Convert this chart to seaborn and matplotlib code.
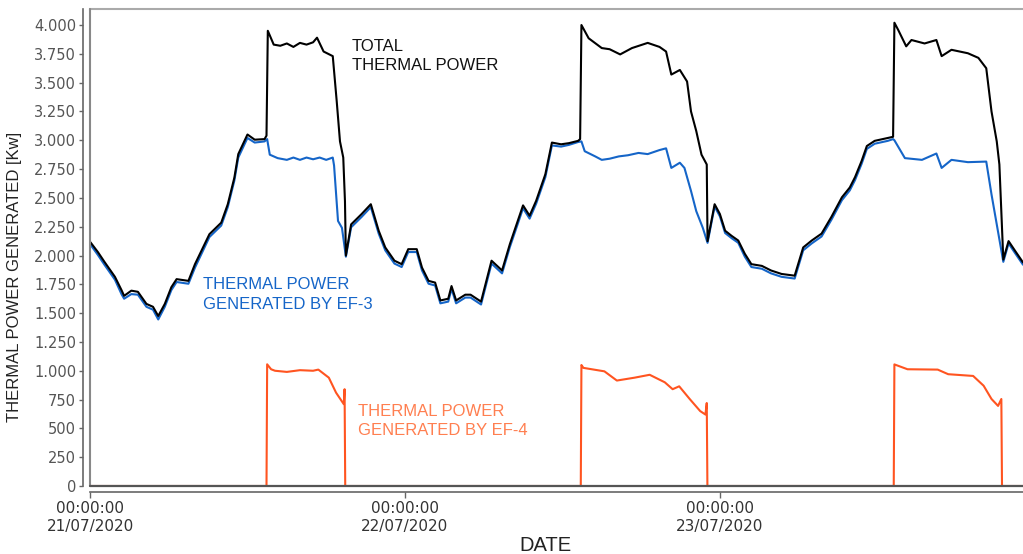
"""
Thermal power generated by EF-3 / EF-4 and the total, 21-23/07/2020
values read off the reference chart (hours from 21/07/2020 00:00)
"""
#%% Libraries
import seaborn as sns
import pandas as pd
import matplotlib.pyplot as plt
import matplotlib.dates as mdates
from matplotlib.ticker import FuncFormatter, MultipleLocator

#%% Data
start = pd.Timestamp("2020-07-21 00:00:00")

total_hours = [0, 0.6, 1.1, 1.9, 2.4, 2.6, 3.15, 3.65, 4.3, 4.8, 5.2, 5.7, 6.2, 6.6, 7.5,
               8.0, 9.1, 10.0, 10.5, 11.0, 11.3, 12.0, 12.55, 13.3, 13.45, 13.55, 14.0,
               14.5, 15.0, 15.5, 16.0, 16.5, 17.0, 17.3, 17.8, 18.5, 18.8, 19.05, 19.3,
               19.43, 19.5, 19.9, 20.7, 21.4, 22.0, 22.5, 23.2, 23.75, 24.25, 24.9, 25.3,
               25.8, 26.3, 26.7, 27.3, 27.55, 27.9, 28.6, 29.0, 29.8, 30.6, 31.4, 32.0,
               32.6, 33.0, 33.5, 34.0, 34.7, 35.2, 35.9, 36.5, 37.2, 37.35, 37.45, 38.0,
               39.0, 39.6, 40.4, 41.3, 42.5, 43.4, 43.9, 44.3, 44.95, 45.5, 45.8, 46.2,
               46.6, 47.0, 47.06, 47.6, 48.0, 48.4, 48.9, 49.4, 49.9, 50.4, 51.2, 51.9,
               52.7, 53.7, 54.35, 55.0, 55.75, 56.5, 57.3, 57.9, 58.3, 58.8, 59.2, 59.8,
               60.8, 61.2, 61.3, 61.6, 62.2, 62.6, 63.6, 64.5, 64.9, 65.65, 66.9, 67.7,
               68.3, 68.7, 69.1, 69.3, 69.6, 70.0, 70.5, 71.1]
total_kw = [2120, 2030, 1945, 1815, 1700, 1650, 1695, 1685, 1580, 1555, 1475, 1580, 1725, 1795, 1780,
            1925, 2185, 2285, 2445, 2675, 2880, 3050, 3005, 3010, 3040, 3950, 3830,
            3820, 3840, 3810, 3845, 3830, 3850, 3890, 3770, 3730, 3340, 2990, 2850,
            2470, 2000, 2270, 2360, 2445, 2215, 2070, 1955, 1925, 2055, 2055, 1895,
            1780, 1765, 1610, 1625, 1735, 1610, 1660, 1660, 1600, 1955, 1870, 2100,
            2300, 2435, 2345, 2475, 2705, 2980, 2965, 2975, 2995, 3010, 4000, 3885,
            3800, 3790, 3745, 3800, 3845, 3810, 3770, 3570, 3610, 3510, 3250, 3080,
            2875, 2790, 2125, 2445, 2360, 2215, 2170, 2130, 2015, 1925, 1910, 1870,
            1840, 1825, 2070, 2130, 2190, 2335, 2505, 2590, 2680, 2820, 2950, 2995,
            3020, 3030, 4020, 3955, 3815, 3870, 3840, 3870, 3730, 3785, 3755, 3715,
            3625, 3250, 2990, 2790, 1965, 2125, 2040, 1940]

ef3_hours = [0, 0.6, 1.1, 1.9, 2.4, 2.6, 3.15, 3.65, 4.3, 4.8, 5.2, 5.7, 6.2, 6.6, 7.5,
             8.0, 9.1, 10.0, 10.5, 11.0, 11.3, 12.0, 12.55, 13.3, 13.5, 13.7, 14.3,
             15.0, 15.5, 16.0, 16.5, 17.0, 17.5, 18.0, 18.5, 18.6, 18.9, 19.2, 19.5,
             19.9, 20.7, 21.4, 22.0, 22.5, 23.2, 23.75, 24.25, 24.9, 25.3, 25.8, 26.3,
             26.7, 27.3, 27.55, 27.9, 28.6, 29.0, 29.8, 30.6, 31.4, 32.0, 32.6, 33.0,
             33.5, 34.0, 34.7, 35.2, 35.9, 36.5, 37.2, 37.45, 37.7, 38.5, 39.0, 39.6,
             40.3, 41.0, 41.8, 42.5, 43.4, 43.9, 44.3, 44.95, 45.3, 45.8, 46.2, 46.7,
             47.06, 47.6, 48.0, 48.4, 48.9, 49.4, 49.9, 50.4, 51.2, 51.9, 52.7, 53.7,
             54.35, 55.0, 55.75, 56.5, 57.3, 57.9, 58.3, 58.8, 59.2, 59.8, 60.8, 61.2,
             61.3, 62.1, 63.4, 64.5, 64.9, 65.65, 66.9, 68.3, 68.7, 69.6, 70.0, 70.5, 71.1]
ef3_kw = [2100, 2005, 1920, 1790, 1665, 1625, 1665, 1660, 1555, 1530, 1445, 1555, 1700, 1770, 1755,
          1895, 2160, 2260, 2420, 2650, 2850, 3020, 2980, 2990, 3010, 2875, 2845,
          2830, 2850, 2830, 2850, 2835, 2850, 2830, 2850, 2780, 2300, 2240, 1990,
          2245, 2335, 2420, 2190, 2045, 1930, 1900, 2030, 2030, 1870, 1755, 1740,
          1585, 1600, 1710, 1585, 1635, 1635, 1575, 1930, 1845, 2075, 2275, 2410,
          2320, 2450, 2680, 2955, 2945, 2960, 2985, 2990, 2905, 2860, 2830, 2840,
          2860, 2870, 2890, 2880, 2915, 2930, 2760, 2805, 2760, 2560, 2385, 2240,
          2110, 2425, 2340, 2195, 2150, 2110, 1990, 1900, 1885, 1845, 1815, 1800,
          2045, 2105, 2165, 2310, 2480, 2565, 2655, 2795, 2925, 2970, 2995, 3010,
          3000, 2845, 2830, 2885, 2760, 2830, 2810, 2815, 2530, 1945, 2105, 2020, 1920]

ef4_hours = [0, 13.45, 13.5, 13.8, 14.1, 15.0, 16.0, 17.0, 17.4, 18.2, 18.75, 19.34, 19.4, 19.45,
             37.4, 37.45, 37.6, 39.2, 40.15, 41.5, 42.65, 43.8, 44.4, 44.9, 45.7, 46.5, 46.9,
             47.0, 47.05, 61.25, 61.3, 62.3, 64.6, 65.4, 67.3, 68.1, 68.7, 69.2, 69.45, 69.5, 71.1]
ef4_kw = [0, 0, 1056, 1013, 1000, 990, 1005, 1000, 1010, 940, 810, 710, 840, 0,
          0, 1050, 1025, 995, 915, 940, 965, 900, 840, 865, 755, 650, 620,
          720, 0, 0, 1055, 1013, 1010, 970, 955, 870, 755, 695, 755, 0, 0]

series_names = ["THERMAL POWER GENERATED BY EF-3", "TOTAL THERMAL POWER",
                "THERMAL POWER GENERATED BY EF-4"]
colors = ["#1565C8", "#000000", "#FF5420"]

frames = []
for name, hrs, vals in zip(series_names, [ef3_hours, total_hours, ef4_hours],
                           [ef3_kw, total_kw, ef4_kw]):
    frames.append(pd.DataFrame({"time": start + pd.to_timedelta(hrs, unit="h"),
                                "power": vals, "series": name}))
data = pd.concat(frames, ignore_index=True)

#%% Plot
sns.set_style("ticks")
plt.rcParams["font.family"] = ["DejaVu Sans"]

fig = plt.figure(figsize=(10.23, 5.54), dpi=100)
ax = fig.add_axes([90 / 1023, 68 / 554, 933 / 1023, 477 / 554])

sns.lineplot(data=data, x="time", y="power", hue="series", hue_order=series_names,
             palette=colors, estimator=None, legend=False, linewidth=1.5, ax=ax)

ax.set_xlim(start, start + pd.Timedelta(hours=71.1))
ax.set_ylim(0, 4139)

# axes styling: offset spines + thin frame
ax.spines["left"].set_position(("outward", 5))
ax.spines["bottom"].set_position(("outward", 4))
ax.spines["right"].set_visible(False)
ax.spines["top"].set_color("#aaaaaa")
ax.spines["top"].set_linewidth(1.5)
for s in ["left", "bottom"]:
    ax.spines[s].set_color("#666666")
    ax.spines[s].set_linewidth(1.2)
ax.axvline(start, color="#888888", lw=1.5, zorder=5, clip_on=False)
ax.axhline(0, color="#555555", lw=1.6, zorder=5, clip_on=False)

ax.yaxis.set_major_locator(MultipleLocator(250))
ax.yaxis.set_major_formatter(FuncFormatter(lambda v, p: f"{int(v):,}".replace(",", ".")))
ax.xaxis.set_major_locator(mdates.DayLocator())
ax.xaxis.set_major_formatter(mdates.DateFormatter("%H:%M:%S\n%d/%m/%Y"))
ax.tick_params(axis="y", length=3, width=1, color="#666666", labelcolor="#555555",
               labelsize=10.5, pad=2)
ax.tick_params(axis="x", length=4, width=1, color="#666666", labelcolor="#333333",
               labelsize=11, pad=3)

ax.set_ylabel("THERMAL POWER GENERATED [Kw]", fontsize=12, family="Liberation Sans",
              color="#222222")
ax.yaxis.set_label_coords(-0.073, 0.438)
ax.set_xlabel("DATE", fontsize=14.5, family="Liberation Sans", color="#222222")
ax.xaxis.set_label_coords(0.488, -0.105)

# series annotations
def hrs(h):
    return start + pd.Timedelta(hours=h)

ax.text(hrs(19.96), 3730, "TOTAL\nTHERMAL POWER", color="#111111", fontsize=12,
        family="Liberation Sans", va="center", ha="left", linespacing=1.35)
ax.text(hrs(8.6), 1662, "THERMAL POWER\nGENERATED BY EF-3", color="#1565C8", fontsize=12,
        family="Liberation Sans", va="center", ha="left", linespacing=1.35)
ax.text(hrs(20.4), 564, "THERMAL POWER\nGENERATED BY EF-4", color="#FF7F50", fontsize=12,
        family="Liberation Sans", va="center", ha="left", linespacing=1.35)

plt.savefig("out.png", dpi=100)
